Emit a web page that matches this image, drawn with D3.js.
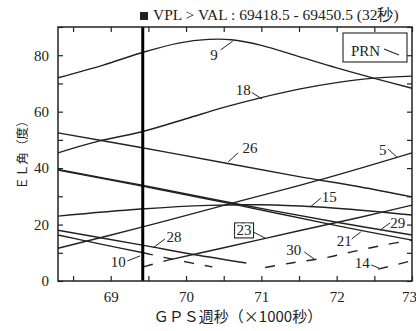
<!DOCTYPE html>
<html><head><meta charset="utf-8">
<script src="https://cdn.jsdelivr.net/npm/d3@7"></script>
<style>
body{margin:0;background:#fff}
.num{font-family:"Liberation Serif","Times New Roman",serif;fill:#222}
.jp{font-family:"Noto Sans CJK JP","Noto Sans",sans-serif;fill:#222}
</style>
</head><body><svg id="chart" width="416" height="331"></svg>
<script>
// Satellite elevation (deg) against GPS time of week (x1000 s)
const prn9  = [[68.3,72.0],[68.9,76.5],[69.4,80.8],[69.9,84.3],[70.3,85.6],[70.6,85.5],[71.0,83.5],[71.5,79.5],[72.0,75.5],[72.5,71.8],[73.0,68.3]];
const prn18 = [[68.3,45.4],[68.8,49.3],[69.4,52.8],[70.0,57.5],[70.5,61.5],[71.0,65.0],[71.5,68.0],[72.0,70.3],[72.5,71.9],[73.0,72.6]];
const prn26 = [[68.3,52.5],[69.4,47.3],[70.5,41.9],[71.5,37.0],[72.3,33.4],[73.0,29.8]];
const prn5  = [[68.3,11.6],[69.4,19.0],[70.5,26.8],[71.8,36.0],[73.0,45.4]];
const prn15 = [[68.3,23.0],[69.4,25.5],[70.3,26.8],[71.0,27.0],[71.7,26.3],[72.4,24.9],[73.0,23.4]];
const prn29 = [[68.3,39.5],[69.4,34.0],[70.7,27.2],[72.0,20.8],[73.0,16.3]];
const prn21 = [[68.3,39.3],[69.4,33.7],[70.7,26.8],[72.0,19.6],[73.0,14.5]];
const prn28 = [[68.3,18.0],[69.4,12.8],[70.1,9.4],[70.8,6.4]];
const prn10 = [[68.3,16.3],[68.9,12.9],[69.43,10.0]];
const prn23 = [[69.76,7.4],[70.5,11.8],[71.5,17.8],[72.3,22.5],[73.0,26.9]];
// low-elevation portions, drawn dashed
const prn10Low = [[69.43,10.0],[69.9,7.3],[70.35,5.0]];
const prn23Low = [[69.43,5.0],[69.76,7.4]];
const prn30Low = [[71.05,4.8],[71.4,6.4],[71.8,8.0],[72.2,10.3],[72.6,12.6],[73.0,14.5]];
const prn14Low = [[72.55,4.2],[73.0,7.2]];

// interval where VPL exceeds VAL (s of week)
const vplStart = 69418.5, vplEnd = 69450.5;

const xTicks = [68.5,69,69.5,70,70.5,71,71.5,72,72.5,73];
const yTicks = [0,10,20,30,40,50,60,70,80,90];

// PRN labels: name, text position, leader start, leader end (data units)
const labelNames = ["9","18","26","5","15","23","28","10","30","21","29","14"];
const labelPos   = [[70.37,80.1],[70.76,67.7],[70.85,47.1],[72.61,46.4],[71.90,29.8],[70.77,18.1],[69.84,15.6],[69.10,6.7],[71.43,11.0],[72.10,14.2],[72.81,20.6],[72.34,6.4]];
const leaderFrom = [[70.46,81.9],[70.86,67.0],[70.56,42.2],[72.68,46.8],[71.65,26.2],[70.89,17.4],[69.56,11.7],[69.22,7.1],[71.57,10.3],[72.20,14.9],[72.58,18.1],[72.43,6.0]];
const leaderTo   = [[70.62,85.0],[71.01,64.5],[70.69,45.4],[72.80,43.9],[71.79,29.4],[71.05,15.2],[69.72,14.9],[69.39,8.9],[71.70,7.8],[72.32,17.4],[72.71,20.6],[72.56,4.6]];

const svg = d3.select("#chart");
const L = 58, R = 412, T = 27, B = 281;
const x = d3.scaleLinear().domain([68.3, 73.0]).range([L, R]);
const y = d3.scaleLinear().domain([0, 90]).range([B, T]);
const ink = "#222";

const line = d3.line().x(d => x(d[0])).y(d => y(d[1])).curve(d3.curveCatmullRom.alpha(0.5));

const solid = [prn9, prn18, prn26, prn5, prn15, prn29, prn21, prn28, prn10, prn23];
const dashed = [prn10Low, prn23Low, prn30Low, prn14Low];

const plot = svg.append("g");
plot.selectAll("path.sat").data(solid).join("path")
  .attr("class","sat").attr("d", line)
  .attr("fill","none").attr("stroke", ink).attr("stroke-width",1.4);
plot.selectAll("path.low").data(dashed).join("path")
  .attr("class","low").attr("d", line)
  .attr("fill","none").attr("stroke", ink).attr("stroke-width",1.4)
  .attr("stroke-dasharray","10,11");

// VPL > VAL band
svg.append("rect")
  .attr("x", x(vplStart/1000) - 1).attr("y", T)
  .attr("width", Math.max(3, x(vplEnd/1000) - x(vplStart/1000)))
  .attr("height", B - T).attr("fill", "#000");

// axes with inward ticks
const fmtX = d => Number.isInteger(d) ? d : "";
const fmtY = d => d % 20 === 0 ? d : "";
const axB = svg.append("g").attr("transform",`translate(0,${B})`)
  .call(d3.axisBottom(x).tickValues(xTicks).tickSize(-5).tickSizeOuter(0).tickPadding(10).tickFormat(fmtX));
const axT = svg.append("g").attr("transform",`translate(0,${T})`)
  .call(d3.axisTop(x).tickValues(xTicks).tickSize(-5).tickSizeOuter(0).tickFormat(""));
const axL = svg.append("g").attr("transform",`translate(${L},0)`)
  .call(d3.axisLeft(y).tickValues(yTicks).tickSize(-5).tickSizeOuter(0).tickPadding(9).tickFormat(fmtY));
const axR = svg.append("g").attr("transform",`translate(${R},0)`)
  .call(d3.axisRight(y).tickValues(yTicks).tickSize(-5).tickSizeOuter(0).tickFormat(""));
[axB, axT, axL, axR].forEach(a => {
  a.select(".domain").remove();
  a.selectAll("line").attr("stroke", ink).attr("stroke-width",1.2);
  a.selectAll("text").attr("class","num").attr("font-size",15).attr("fill",ink);
});
// last x label sits against the window edge
axB.selectAll(".tick").filter(d => d === 73).select("text").attr("dx", -3);

// frame
svg.append("rect").attr("x",L).attr("y",T).attr("width",R-L).attr("height",B-T)
  .attr("fill","none").attr("stroke",ink).attr("stroke-width",1.5);

// PRN labels and leaders
const lab = svg.append("g");
labelNames.forEach((name, i) => {
  lab.append("line")
    .attr("x1", x(leaderFrom[i][0])).attr("y1", y(leaderFrom[i][1]))
    .attr("x2", x(leaderTo[i][0])).attr("y2", y(leaderTo[i][1]))
    .attr("stroke", ink).attr("stroke-width",1);
  const t = lab.append("text").attr("class","num")
    .attr("x", x(labelPos[i][0])).attr("y", y(labelPos[i][1]))
    .attr("text-anchor","middle").attr("dominant-baseline","central")
    .attr("font-size",15).attr("stroke","#fff").attr("stroke-width",3).attr("paint-order","stroke")
    .text(name);
  if (name === "23") {
    const bb = t.node().getBBox();
    lab.insert("rect", "text:last-child")
      .attr("x", bb.x - 2).attr("y", bb.y + 1).attr("width", bb.width + 4).attr("height", bb.height - 1)
      .attr("fill","#fff").attr("stroke",ink).attr("stroke-width",1.1);
  }
});

// PRN key box
svg.append("rect").attr("x",343).attr("y",33).attr("width",64).attr("height",29)
  .attr("fill","#fff").attr("stroke",ink).attr("stroke-width",1.1);
svg.append("text").attr("class","num").attr("x",351).attr("y",56).attr("font-size",15)
  .text("PRN");
svg.append("line").attr("x1",384).attr("y1",49).attr("x2",399).attr("y2",55)
  .attr("stroke",ink).attr("stroke-width",1.1);

// title
svg.append("rect").attr("x",140).attr("y",12).attr("width",8).attr("height",8).attr("fill","#222");
svg.append("text").attr("class","num").attr("x",153).attr("y",20).attr("font-size",15.5)
  .text("VPL > VAL : 69418.5 - 69450.5 (32秒)");

// axis titles
svg.append("text").attr("class","jp").attr("x",238).attr("y",322).attr("text-anchor","middle")
  .attr("font-size",15).text("ＧＰＳ週秒（×1000秒）");
svg.append("text").attr("class","jp").attr("transform","translate(27,152) rotate(-90)")
  .attr("text-anchor","middle").attr("font-size",12.5).text("ＥＬ角（度）");
</script>
</body></html>
